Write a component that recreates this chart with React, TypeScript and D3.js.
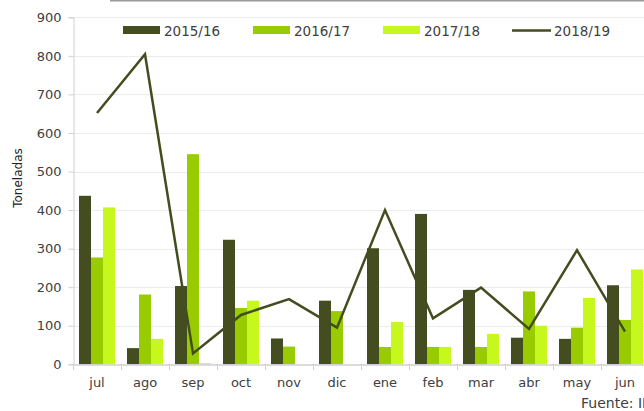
import React, { useEffect, useRef } from 'react';
import * as d3 from 'd3';

const months = ['jul', 'ago', 'sep', 'oct', 'nov', 'dic', 'ene', 'feb', 'mar', 'abr', 'may', 'jun'];
const barSeries = ['2015/16', '2016/17', '2017/18'];
const lineSeries = '2018/19';
const v2015 = [437, 42, 203, 323, 67, 165, 301, 390, 193, 69, 66, 205];
const v2016 = [277, 181, 545, 146, 46, 138, 45, 45, 45, 189, 95, 115];
const v2017 = [407, 66, 3, 165, 0, 0, 110, 45, 79, 100, 172, 246];
const v2018 = [652, 804, 28, 128, 169, 95, 400, 119, 199, 92, 296, 85];
const yTicks = [0, 100, 200, 300, 400, 500, 600, 700, 800, 900];
const colors = ['#434D1F', '#99CC00', '#C6F81E'];
const lineColor = '#434D1F';

export default function App() {
  const ref = useRef<SVGSVGElement>(null);

  useEffect(() => {
    const svg = d3.select(ref.current);
    svg.selectAll('*').remove();

    const font = "'DejaVu Sans', sans-serif";
    const x = d3.scaleBand().domain(months).range([73, 649]).padding(0);
    const xs = d3.scaleBand().domain(barSeries).range([6, 42]).padding(0);
    const y = d3.scaleLinear().domain([0, 900]).range([364.3, 17.3]);

    // frame line at the top (cropped chart border)
    svg.append('line')
      .attr('x1', 110).attr('x2', 644).attr('y1', 0.5).attr('y2', 0.5)
      .attr('stroke', '#9a9a9a').attr('stroke-width', 2);

    // gridlines
    svg.append('g')
      .selectAll('line')
      .data(yTicks.slice(1))
      .enter()
      .append('line')
      .attr('x1', 73).attr('x2', 649)
      .attr('y1', d => Math.round(y(d)) + 0.5)
      .attr('y2', d => Math.round(y(d)) + 0.5)
      .attr('stroke', '#ececec');

    // y axis
    const yAxis = svg.append('g')
      .attr('transform', 'translate(73.5,0)')
      .call(d3.axisLeft(y).tickValues(yTicks).tickSize(5).tickPadding(7));
    yAxis.select('.domain').attr('stroke', '#d0d0d0');
    yAxis.selectAll('line').attr('stroke', '#d0d0d0');
    yAxis.selectAll('text')
      .attr('font-family', font).attr('font-size', 13).attr('fill', '#404040');

    // bars
    const series = [v2015, v2016, v2017];
    series.forEach((vals, si) => {
      svg.append('g')
        .selectAll('rect')
        .data(vals)
        .enter()
        .append('rect')
        .attr('x', (d, i) => (x(months[i]) as number) + (xs(barSeries[si]) as number))
        .attr('y', d => y(d))
        .attr('width', xs.bandwidth())
        .attr('height', d => y(0) - y(d))
        .attr('fill', colors[si]);
    });

    // x axis
    const xAxis = svg.append('g')
      .attr('transform', `translate(0,${364.5})`)
      .call(d3.axisBottom(x).tickSize(0).tickPadding(13));
    xAxis.select('.domain').attr('stroke', '#d0d0d0').attr('stroke-width', 1.5);
    xAxis.selectAll('text')
      .attr('font-family', font).attr('font-size', 13).attr('fill', '#404040');
    svg.append('g')
      .selectAll('line')
      .data(months)
      .enter()
      .append('line')
      .attr('x1', d => Math.round(x(d) as number) + 0.5)
      .attr('x2', d => Math.round(x(d) as number) + 0.5)
      .attr('y1', 364).attr('y2', 370)
      .attr('stroke', '#d0d0d0');

    // line
    const line = d3.line<number>()
      .x((d, i) => (x(months[i]) as number) + x.bandwidth() / 2)
      .y(d => y(d));
    svg.append('path')
      .datum(v2018)
      .attr('d', line)
      .attr('fill', 'none')
      .attr('stroke', lineColor)
      .attr('stroke-width', 2.5);

    // y title
    svg.append('text')
      .attr('transform', 'translate(22,178) rotate(-90)')
      .attr('text-anchor', 'middle')
      .attr('font-family', font).attr('font-size', 12).attr('fill', '#222')
      .text('Toneladas');

    // legend
    const legendX = [123, 253, 383];
    barSeries.forEach((s, i) => {
      svg.append('rect')
        .attr('x', legendX[i]).attr('y', 26).attr('width', 37).attr('height', 8)
        .attr('fill', colors[i]);
      svg.append('text')
        .attr('x', legendX[i] + 41).attr('y', 36)
        .attr('font-family', font).attr('font-size', 13.5).attr('fill', '#404040')
        .text(s);
    });
    svg.append('line')
      .attr('x1', 512).attr('x2', 551).attr('y1', 30.5).attr('y2', 30.5)
      .attr('stroke', lineColor).attr('stroke-width', 2.5);
    svg.append('text')
      .attr('x', 554).attr('y', 36)
      .attr('font-family', font).attr('font-size', 13.5).attr('fill', '#404040')
      .text(lineSeries);

    // source
    svg.append('text')
      .attr('x', 581).attr('y', 408)
      .attr('font-family', font).attr('font-size', 14).attr('fill', '#404040')
      .text('Fuente: INE');
  }, []);

  return (
    <div style={{ position: 'absolute', left: 0, top: 0 }}>
      <svg ref={ref} width={644} height={411} style={{ display: 'block', background: '#fff' }} />
    </div>
  );
}
